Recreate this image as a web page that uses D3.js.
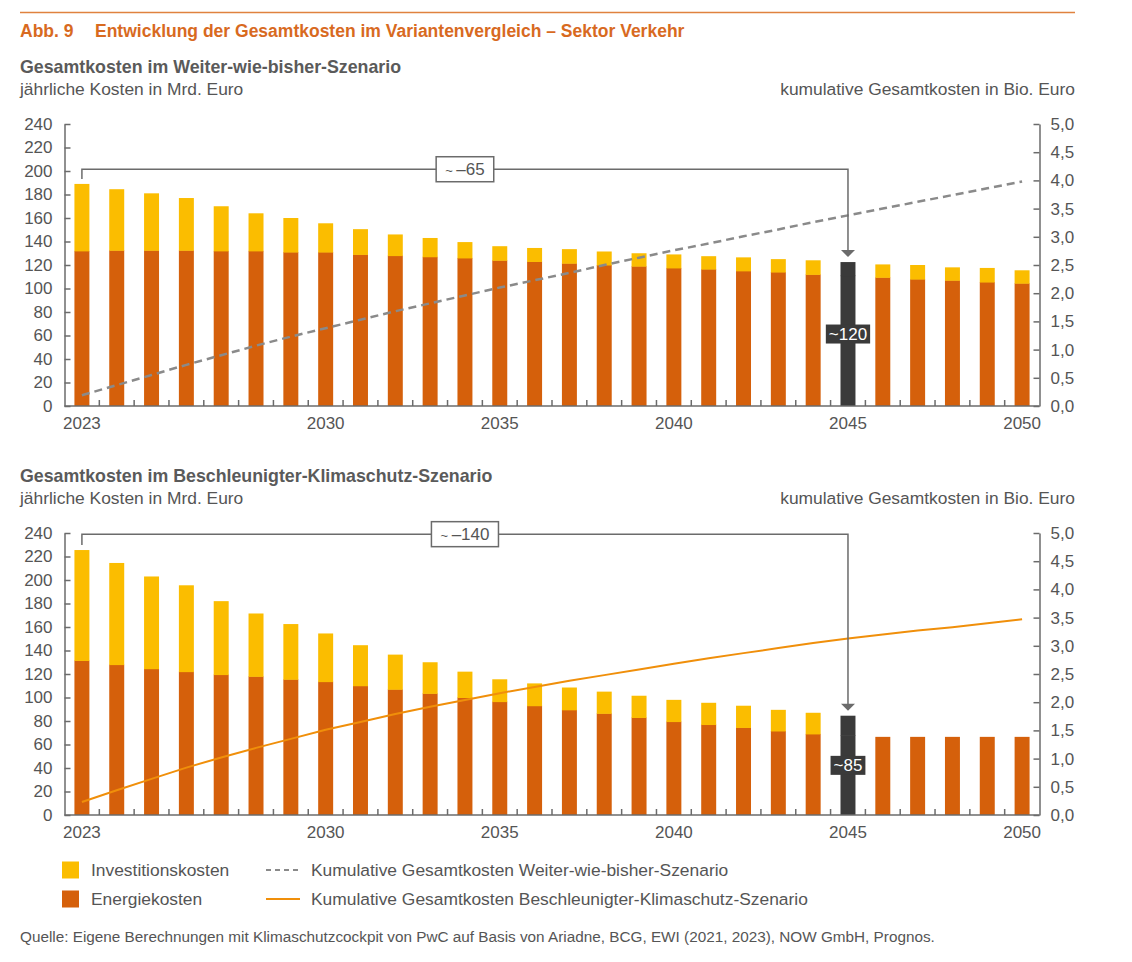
<!DOCTYPE html>
<html>
<head>
<meta charset="utf-8">
<script src="https://cdn.jsdelivr.net/npm/d3@7"></script>
<style>
  body { margin: 0; background: #fff; }
  svg { font-family: "Liberation Sans", Arial, sans-serif; }
  .axis path, .axis line { stroke: #6b6b6b; stroke-width: 1.5; }
  .axis text { fill: #555; font-size: 17px; }
</style>
</head>
<body>
<svg width="1132" height="962"></svg>
<script>
var years = [2023, 2024, 2025, 2026, 2027, 2028, 2029, 2030, 2031, 2032, 2033, 2034, 2035, 2036,
  2037, 2038, 2039, 2040, 2041, 2042, 2043, 2044, 2045, 2046, 2047, 2048, 2049, 2050];
var yearLabels = [2023, 2030, 2035, 2040, 2045, 2050];
var leftTicks = [0, 20, 40, 60, 80, 100, 120, 140, 160, 180, 200, 220, 240];
var rightTicks = [0, 0.5, 1, 1.5, 2, 2.5, 3, 3.5, 4, 4.5, 5];

// Weiter-wie-bisher, Mrd. Euro
var energyWwb = [132, 132.5, 132.5, 132.5, 132, 132, 131, 131, 129, 128, 127, 126, 124, 123,
  121.5, 120, 119, 117.5, 116.5, 115, 114, 112, 111, 109.5, 108, 107, 105.5, 104.5];
var investWwb = [57, 52, 48.5, 44.5, 38, 32, 29, 24.5, 21.5, 18, 16, 13.5, 12, 11.5,
  12, 11.5, 11, 11.5, 11, 11.5, 11, 12, 11.5, 11, 12, 11, 12, 11];
// kumulativ, Bio. Euro
var cumWwb = [0.19, 0.37, 0.55, 0.73, 0.90, 1.07, 1.23, 1.38, 1.53, 1.68, 1.82, 1.96, 2.10, 2.23,
  2.36, 2.50, 2.63, 2.76, 2.88, 3.01, 3.13, 3.26, 3.38, 3.50, 3.62, 3.74, 3.86, 3.98];

// Beschleunigter Klimaschutz, Mrd. Euro
var energyBks = [131.5, 128, 124.5, 122, 119.5, 118, 115.5, 113.5, 110, 107, 103.5, 100, 96.5, 93,
  89.5, 86.5, 83, 79.5, 77, 74.5, 71.5, 69, 68, 66.5, 66.5, 66.5, 66.5, 66.5];
var investBks = [94, 86.5, 78.5, 73.5, 62.5, 53.5, 47, 41, 34.5, 29.5, 26.5, 22, 19, 19,
  19, 18.5, 18.5, 18.5, 18.5, 18.5, 18, 18, 16.5, 0, 0, 0, 0, 0];
var cumBks = [0.23, 0.44, 0.64, 0.84, 1.02, 1.19, 1.35, 1.51, 1.65, 1.79, 1.92, 2.04, 2.16, 2.27,
  2.38, 2.48, 2.58, 2.68, 2.78, 2.87, 2.96, 3.05, 3.13, 3.20, 3.27, 3.33, 3.40, 3.47];

var colInvest = "#fbbd00", colEnergy = "#d5600b", colDark = "#3a3a3a";
var colGray = "#555", colAxis = "#6b6b6b";
var highlightYear = 2045;

var svg = d3.select("svg");
var left = 64.5, right = 1039.5;

var x = d3.scaleBand().domain(years).range([left, right])
  .paddingInner(0.57).paddingOuter(0.285);

function txt(xp, yp, s, opts) {
  opts = opts || {};
  return svg.append("text").attr("x", xp).attr("y", yp).attr("dy", "0.35em")
    .attr("fill", opts.fill || colGray)
    .attr("font-size", opts.size || "17.4px")
    .attr("font-weight", opts.bold ? "bold" : null)
    .attr("text-anchor", opts.anchor || "start")
    .text(s);
}

// header
svg.append("line").attr("x1", 20).attr("x2", 1075).attr("y1", 12.5).attr("y2", 12.5)
  .attr("stroke", "#e0823f").attr("stroke-width", 1.5);
txt(20, 31, "Abb. 9", { fill: "#d86a1f", bold: true, size: "17.5px" });
txt(95, 31, "Entwicklung der Gesamtkosten im Variantenvergleich – Sektor Verkehr", { fill: "#d86a1f", bold: true, size: "17.5px" });

function panel(cfg) {
  var top = cfg.top, bottom = cfg.top + 282;
  var y = d3.scaleLinear().domain([0, 240]).range([bottom, top]);
  var y2 = d3.scaleLinear().domain([0, 5]).range([bottom, top]);

  txt(20, top - 57, cfg.title, { bold: true, fill: "#5a5a5a", size: "17.8px" });
  txt(20, top - 35, "jährliche Kosten in Mrd. Euro");
  txt(1075, top - 35, "kumulative Gesamtkosten in Bio. Euro", { anchor: "end" });

  var g = svg.append("g");

  // bars
  var rows = years.map(function(d, i) {
    return { year: d, energy: cfg.energy[i], invest: cfg.invest[i] };
  });
  var bars = g.selectAll(null).data(rows).enter().append("g");
  bars.append("rect")
    .attr("x", function(d) { return x(d.year); })
    .attr("width", x.bandwidth())
    .attr("y", function(d) { return y(d.energy); })
    .attr("height", function(d) { return bottom - y(d.energy); })
    .attr("fill", function(d) { return d.year === highlightYear ? colDark : colEnergy; });
  bars.append("rect")
    .attr("x", function(d) { return x(d.year); })
    .attr("width", x.bandwidth())
    .attr("y", function(d) { return y(d.energy + d.invest); })
    .attr("height", function(d) { return y(d.energy) - y(d.energy + d.invest) + (d.invest > 0 ? 0.5 : 0); })
    .attr("fill", function(d) { return d.year === highlightYear ? colDark : colInvest; });

  // axes
  g.append("g").attr("class", "axis")
    .attr("transform", "translate(" + left + ",0)")
    .call(d3.axisLeft(y).tickValues(leftTicks).tickSizeInner(-6).tickSizeOuter(0).tickPadding(12));
  g.append("g").attr("class", "axis")
    .attr("transform", "translate(" + right + ",0)")
    .call(d3.axisRight(y2).tickValues(rightTicks).tickSizeInner(-6).tickSizeOuter(0).tickPadding(11)
      .tickFormat(function(d) { return d3.format(".1f")(d).replace(".", ","); }));
  var xa = g.append("g").attr("class", "axis")
    .attr("transform", "translate(0," + bottom + ")")
    .call(d3.axisBottom(x).tickValues(yearLabels).tickSize(0).tickPadding(11));
  xa.select(".domain").attr("d", "M" + left + ",0H" + right);
  var gap = (x.step() - x.bandwidth()) / 2;
  g.selectAll(null).data(years.slice(1)).enter().append("line")
    .attr("x1", function(d) { return x(d) - gap; })
    .attr("x2", function(d) { return x(d) - gap; })
    .attr("y1", bottom).attr("y2", bottom - 6)
    .attr("stroke", colAxis).attr("stroke-width", 1.5);

  // cumulative line
  var line = d3.line()
    .x(function(d, i) { return x(years[i]) + x.bandwidth() / 2; })
    .y(function(d) { return y2(d); });
  g.append("path").datum(cfg.cum)
    .attr("d", line).attr("fill", "none")
    .attr("stroke", cfg.lineColor).attr("stroke-width", cfg.dashed ? 2.5 : 2)
    .attr("stroke-dasharray", cfg.dashed ? "8,5" : null);

  // bracket annotation
  var hi = years.indexOf(highlightYear);
  var x0 = x(years[0]) + x.bandwidth() / 2;
  var x1 = x(highlightYear) + x.bandwidth() / 2;
  var yb = y(cfg.bracketAt);
  var yl = y(cfg.energy[0] + cfg.invest[0]) - 5;
  var tip = y(cfg.energy[hi] + cfg.invest[hi]) - 5;
  g.append("path")
    .attr("d", "M" + x0 + "," + yl + "V" + yb + "H" + x1 + "V" + (tip - 6))
    .attr("fill", "none").attr("stroke", colAxis).attr("stroke-width", 1.5);
  g.append("path")
    .attr("d", "M" + (x1 - 7) + "," + (tip - 7) + "L" + (x1 + 7) + "," + (tip - 7) + "L" + x1 + "," + tip + "Z")
    .attr("fill", colAxis);

  var bx = (x0 + x1) / 2;
  var box = g.append("rect").attr("fill", "#fff").attr("stroke", colAxis).attr("stroke-width", 1.5);
  var bt = g.append("text").attr("x", bx).attr("y", yb).attr("dy", "0.35em")
    .attr("text-anchor", "middle").attr("fill", colGray).attr("font-size", "17px");
  bt.append("tspan").attr("font-size", "13px").text("~ ");
  bt.append("tspan").text(cfg.diff);
  var bw = bt.node().getComputedTextLength() + 18;
  box.attr("x", bx - bw / 2).attr("y", yb - 12.5).attr("width", bw).attr("height", 25);

  // label on highlighted bar
  var ym = y((cfg.energy[hi] + cfg.invest[hi]) / 2);
  var lbg = g.append("rect").attr("fill", colDark);
  var lab = g.append("text").attr("x", x1).attr("y", ym).attr("dy", "0.35em")
    .attr("text-anchor", "middle").attr("fill", "#fff").attr("font-size", "17px")
    .text(cfg.total);
  var lw = lab.node().getComputedTextLength() + 6;
  lbg.attr("x", x1 - lw / 2).attr("y", ym - 9.5).attr("width", lw).attr("height", 19);
}

panel({ top: 124, title: "Gesamtkosten im Weiter-wie-bisher-Szenario",
  energy: energyWwb, invest: investWwb, cum: cumWwb, lineColor: "#8a8a8a", dashed: true,
  bracketAt: 201.5, diff: "–65", total: "~120" });
panel({ top: 533, title: "Gesamtkosten im Beschleunigter-Klimaschutz-Szenario",
  energy: energyBks, invest: investBks, cum: cumBks, lineColor: "#f08f0a", dashed: false,
  bracketAt: 239, diff: "–140", total: "~85" });

// legend
var legBars = [["Investitionskosten", colInvest], ["Energiekosten", colEnergy]];
svg.selectAll(null).data(legBars).enter().append("rect")
  .attr("x", 62).attr("y", function(d, i) { return 861.5 + i * 29; })
  .attr("width", 17).attr("height", 17)
  .attr("fill", function(d) { return d[1]; });
legBars.forEach(function(d, i) { txt(91, 870 + i * 29, d[0]); });

var legLines = [["Kumulative Gesamtkosten Weiter-wie-bisher-Szenario", "#8a8a8a", "5,4"],
  ["Kumulative Gesamtkosten Beschleunigter-Klimaschutz-Szenario", "#f08f0a", null]];
svg.selectAll(null).data(legLines).enter().append("line")
  .attr("x1", 266).attr("x2", 300)
  .attr("y1", function(d, i) { return 870 + i * 29; })
  .attr("y2", function(d, i) { return 870 + i * 29; })
  .attr("stroke", function(d) { return d[1]; })
  .attr("stroke-width", 2)
  .attr("stroke-dasharray", function(d) { return d[2]; });
legLines.forEach(function(d, i) { txt(311, 870 + i * 29, d[0]); });

txt(20, 937, "Quelle: Eigene Berechnungen mit Klimaschutzcockpit von PwC auf Basis von Ariadne, BCG, EWI (2021, 2023), NOW GmbH, Prognos.",
  { size: "15.3px" });
</script>
</body>
</html>
